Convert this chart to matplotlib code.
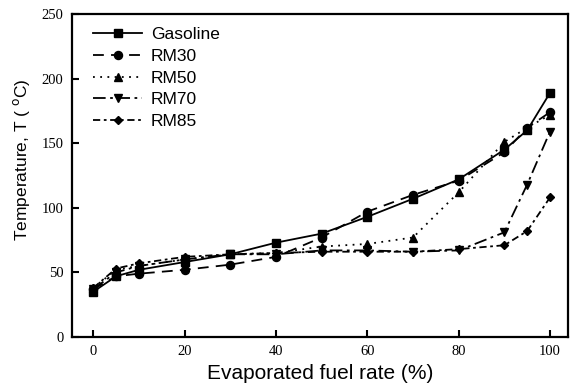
import matplotlib
matplotlib.use("Agg")
import matplotlib.pyplot as plt

x = [0, 5, 10, 20, 30, 40, 50, 60, 70, 80, 90, 95, 100]
gasoline = [35, 47, 52, 58, 64, 73, 80, 93, 107, 122, 145, 160, 189]
rm30 = [37, 47, 49, 52, 56, 62, 77, 97, 110, 121, 143, 162, 174]
rm50 = [38, 52, 55, 60, 64, 65, 70, 72, 77, 112, 151, 162, 172]
rm70 = [37, 50, 55, 60, 64, 64, 67, 67, 66, 67, 81, 118, 159]
rm85 = [38, 53, 57, 62, 64, 65, 66, 66, 66, 68, 71, 82, 108]
labels = ["Gasoline", "RM30", "RM50", "RM70", "RM85"]
xticks = [0, 20, 40, 60, 80, 100]
yticks = [0, 50, 100, 150, 200, 250]

fig = plt.figure(figsize=(5.7, 3.9), dpi=100)
ax = fig.add_axes([0.126, 0.136, 0.871, 0.828])

styles = [
    dict(ls='-', marker='s'),
    dict(ls=(0, (6, 4)), marker='o'),
    dict(ls=(0, (1, 3)), marker='^'),
    dict(ls=(0, (7, 2.5, 1.5, 2.5)), marker='v'),
    dict(ls=(0, (4, 2, 1.5, 2)), marker='D'),
]
series = [gasoline, rm30, rm50, rm70, rm85]
for s, lab, st in zip(series, labels, styles):
    ms = 4.5 if st['marker'] == 'D' else 5.8
    ax.plot(x, s, color='black', lw=1.3, linestyle=st['ls'], marker=st['marker'],
            markersize=ms, markerfacecolor='black', markeredgecolor='black', label=lab)

ax.set_xlim(-4.7, 104)
ax.set_ylim(0, 250)
ax.set_xticks(xticks)
ax.set_yticks(yticks)
for sp in ax.spines.values():
    sp.set_linewidth(1.6)
ax.tick_params(direction='in', length=5, width=1.5, labelsize=10.5, pad=6)
for lbl in ax.get_xticklabels() + ax.get_yticklabels():
    lbl.set_fontfamily('Liberation Serif')

ax.set_xlabel('Evaporated fuel rate (%)', fontsize=15, family='Liberation Sans', labelpad=4)
ax.set_ylabel('Temperature, T ( $^{\\rm o}$C)', fontsize=12.5, family='Liberation Sans')
ax.yaxis.set_label_coords(-0.08, 0.55)

leg = ax.legend(loc='upper left', frameon=False, handlelength=2.8, handletextpad=0.5,
                labelspacing=0.38, prop={'family': 'Liberation Sans', 'size': 12.5},
                bbox_to_anchor=(0.012, 1.008), borderaxespad=0.5)

fig.savefig('out.png', dpi=100)
